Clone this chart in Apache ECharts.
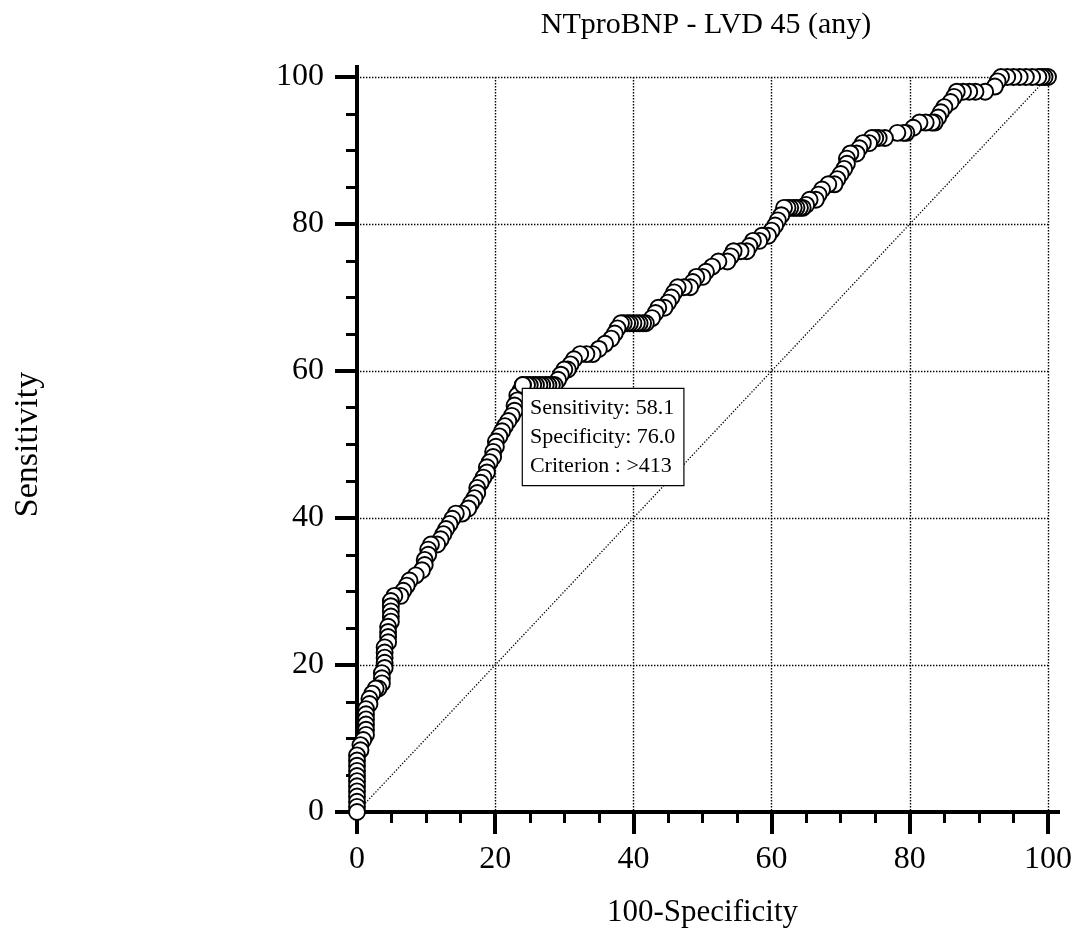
<!DOCTYPE html>
<html>
<head>
<meta charset="utf-8">
<title>NTproBNP - LVD 45 (any)</title>
<script src="https://cdn.jsdelivr.net/npm/echarts@6/dist/echarts.min.js"></script>
<style>
  html, body { margin: 0; padding: 0; background: #fff; }
  #chart { width: 1080px; height: 934px; }
</style>
</head>
<body>
<div id="chart"></div>
<script>
// ---- chart text ----
const chartTitle = 'NTproBNP - LVD 45 (any)';
const xAxisName = '100-Specificity';
const yAxisName = 'Sensitivity';

// ---- tick values shared by both axes ----
const axisTicks = [0, 20, 40, 60, 80, 100];

// ---- ROC points: [100-Specificity, Sensitivity], from the origin up to the top-right corner ----
const rocPoints = [
  [0, 0], [0, 0.7], [0, 1.4], [0, 2.1], [0, 2.8], [0, 3.5], [0, 4.2], [0, 4.9], [0, 5.6], [0, 6.3], [0, 7.0], [0, 7.7],
  [0.5, 8.4], [0.5, 9.1], [0.9, 9.8], [1.3, 10.5], [1.3, 11.2], [1.3, 11.9], [1.3, 12.6], [1.3, 13.3], [1.3, 14.0],
  [1.8, 14.7], [1.8, 15.4], [2.2, 16.1], [2.7, 16.8], [3.1, 16.8], [3.6, 17.5], [3.6, 18.2], [3.6, 18.9],
  [4.0, 19.6], [4.0, 20.3], [4.0, 21.0], [4.0, 21.7], [4.0, 22.4], [4.5, 23.1], [4.5, 23.8], [4.5, 24.5], [4.5, 25.2],
  [4.9, 25.9], [4.9, 26.6], [4.9, 27.3], [4.9, 28.0], [4.9, 28.7], [5.4, 29.4], [6.3, 29.4], [6.7, 30.1], [7.2, 30.8],
  [7.6, 31.5], [8.5, 32.2], [9.4, 32.9], [9.8, 33.6], [9.8, 34.3], [10.3, 35.0], [10.3, 35.7], [10.7, 36.4], [11.6, 36.4],
  [12.1, 37.1], [12.5, 37.8], [12.9, 38.5], [13.4, 39.2], [13.8, 39.9], [14.3, 40.6], [15.2, 40.6], [16.1, 41.3],
  [16.5, 42.0], [17.0, 42.7], [17.4, 43.4], [17.4, 44.1], [17.9, 44.8], [18.3, 45.5], [18.8, 46.2], [18.8, 46.9],
  [19.2, 47.6], [19.7, 48.3], [19.7, 49.0], [20.1, 49.7], [20.1, 50.4], [20.6, 51.1], [21.0, 51.8], [21.4, 52.5],
  [21.9, 53.2], [22.4, 53.9], [22.8, 54.6], [22.8, 55.3], [23.2, 56.0], [23.2, 56.7], [23.7, 57.4], [24.0, 58.1],
  [24.6, 58.1], [25.0, 58.1], [25.5, 58.1], [25.9, 58.1], [26.4, 58.1], [26.8, 58.1], [27.3, 58.1], [27.7, 58.1],
  [28.2, 58.1], [28.6, 58.1], [29.1, 58.8], [29.5, 59.5], [30.0, 60.2], [30.5, 60.2], [30.9, 60.9], [31.4, 61.6],
  [32.3, 62.3], [33.2, 62.3], [34.1, 62.3], [35.0, 63.0], [35.9, 63.7], [36.8, 64.4], [37.3, 65.1], [37.7, 65.8],
  [38.2, 66.5], [38.6, 66.5], [39.1, 66.5], [39.5, 66.5], [40.0, 66.5], [40.5, 66.5], [40.9, 66.5], [41.4, 66.5],
  [41.8, 66.5], [42.7, 67.2], [43.2, 67.9], [43.6, 68.6], [44.5, 68.6], [45.0, 69.3], [45.5, 70.0], [45.9, 70.7],
  [46.4, 71.4], [47.3, 71.4], [48.2, 71.4], [48.6, 72.1], [49.1, 72.8], [50.0, 72.8], [50.5, 73.5], [51.4, 74.2],
  [52.3, 74.9], [53.6, 74.9], [54.1, 75.6], [54.5, 76.3], [55.5, 76.3], [56.4, 76.3], [56.8, 77.0], [57.3, 77.7],
  [58.2, 77.7], [58.6, 78.4], [59.5, 78.4], [60.0, 79.1], [60.5, 79.8], [60.9, 80.5], [61.4, 81.2], [61.8, 82.2],
  [62.3, 82.2], [62.7, 82.2], [63.2, 82.2], [63.6, 82.2], [64.1, 82.2], [64.5, 82.2], [65.0, 82.6], [65.5, 83.3],
  [66.4, 83.3], [66.8, 84.0], [67.3, 84.7], [68.2, 85.4], [69.1, 85.4], [69.5, 86.1], [70.0, 86.8], [70.5, 87.5],
  [70.9, 88.2], [70.9, 88.9], [71.4, 89.6], [72.3, 89.6], [72.7, 90.3], [73.2, 91.0], [74.1, 91.0], [74.5, 91.7],
  [75.0, 91.7], [75.5, 91.7], [76.4, 91.7], [78.2, 92.4], [79.1, 92.4], [79.5, 92.4], [80.5, 93.1], [81.4, 93.8],
  [82.3, 93.8], [83.2, 93.8], [83.6, 93.8], [84.1, 94.5], [84.5, 95.2], [85.0, 95.9], [85.9, 96.6], [86.4, 97.3],
  [86.8, 98.0], [87.7, 98.0], [88.6, 98.0], [89.5, 98.0], [90.9, 98.0], [92.3, 98.7], [92.7, 99.4], [93.2, 100],
  [94.1, 100], [95.0, 100], [95.9, 100], [96.8, 100], [97.7, 100], [98.6, 100], [99.1, 100], [99.5, 100], [100, 100]
];

// ---- chance line ----
const referenceLine = [[0, 0], [100, 100]];

// ---- optimal criterion ----
const cutoffFpr = 24.0;
const cutoffSensitivity = 58.1;
const cutoffSpecificity = 76.0;
const cutoffCriterion = '>413';

const serif = "'Liberation Serif', 'Times New Roman', serif";
const tickStep = axisTicks[1] - axisTicks[0];

const markerStyle = { color: '#fff', borderColor: '#000', borderWidth: 1.9 };
const markerSize = 16;

function makeAxis(extra) {
  return Object.assign({
    type: 'value',
    min: axisTicks[0],
    max: axisTicks[axisTicks.length - 1],
    interval: tickStep,
    axisLine: {
      show: true,
      onZero: false,
      symbol: ['none', 'rect'],
      symbolSize: [4, 24],
      lineStyle: { color: '#000', width: 4 }
    },
    axisTick: { show: true, inside: false, length: 22, lineStyle: { color: '#000', width: 4 } },
    minorTick: { show: true, splitNumber: 4, length: 11, lineStyle: { color: '#000', width: 3 } },
    splitLine: { show: true, lineStyle: { color: '#000', width: 1.4, type: [1.4, 1.6] } },
    minorSplitLine: { show: false },
    nameTextStyle: { color: '#000', fontFamily: serif, fontSize: 31 }
  }, extra);
}

const chart = echarts.init(document.getElementById('chart'), null, { renderer: 'canvas' });

chart.setOption({
  animation: false,
  backgroundColor: '#fff',
  title: {
    text: chartTitle,
    left: 706,
    top: 10,
    padding: 0,
    textAlign: 'center',
    textStyle: { color: '#000', fontFamily: serif, fontSize: 30, fontWeight: 'normal' }
  },
  grid: { left: 357, top: 77, width: 691, height: 735, containLabel: false },
  xAxis: makeAxis({
    name: xAxisName,
    nameLocation: 'middle',
    nameGap: 85,
    axisLabel: { color: '#000', fontFamily: serif, fontSize: 32, margin: 32 }
  }),
  yAxis: makeAxis({
    name: yAxisName,
    nameLocation: 'middle',
    nameRotate: 90,
    nameGap: 312,
    nameTextStyle: { color: '#000', fontFamily: serif, fontSize: 34 },
    axisLabel: { color: '#000', fontFamily: serif, fontSize: 32, margin: 33 }
  }),
  series: [
    {
      name: 'reference',
      type: 'line',
      data: referenceLine,
      symbol: 'none',
      silent: true,
      z: 1,
      lineStyle: { color: '#000', width: 1.3, type: [1.3, 1.7] }
    },
    {
      name: 'ROC',
      type: 'line',
      // drawn from the top-right corner down, so lower-threshold markers sit on top
      data: rocPoints.slice().reverse(),
      symbol: 'circle',
      symbolSize: markerSize,
      showSymbol: true,
      showAllSymbol: true,
      clip: false,
      z: 3,
      lineStyle: { color: '#000', width: 1 },
      itemStyle: markerStyle,
      markPoint: {
        symbol: 'circle',
        symbolSize: markerSize,
        silent: true,
        itemStyle: markerStyle,
        label: {
          show: true,
          position: [9, 13],
          align: 'left',
          verticalAlign: 'top',
          color: '#000',
          fontFamily: serif,
          fontSize: 22,
          lineHeight: 29,
          backgroundColor: '#fff',
          borderColor: '#000',
          borderWidth: 1.2,
          padding: [5, 8, 4, 7],
          formatter: function () {
            return [
              'Sensitivity: ' + cutoffSensitivity.toFixed(1),
              'Specificity: ' + cutoffSpecificity.toFixed(1),
              'Criterion : ' + cutoffCriterion
            ].join('\n');
          }
        },
        data: [{ coord: [cutoffFpr, cutoffSensitivity] }]
      }
    }
  ]
});
</script>
</body>
</html>
